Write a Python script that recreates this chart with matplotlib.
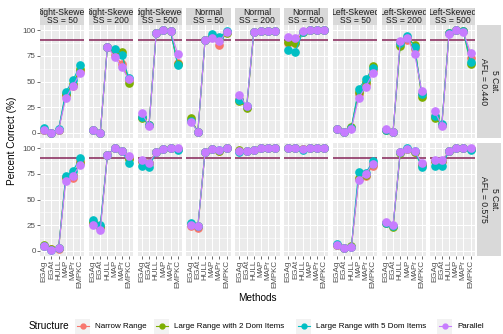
import matplotlib
matplotlib.use("Agg")
import matplotlib.pyplot as plt
from matplotlib.patches import Rectangle
from matplotlib.lines import Line2D

plt.rcParams['font.family'] = ['Liberation Sans', 'DejaVu Sans']

# ---------------- data ----------------
methods = ["EGAg", "EGAt", "HULL", "MAP", "MAPr", "EMPKC"]
distributions = ["Right-Skewed"] * 3 + ["Normal"] * 3 + ["Left-Skewed"] * 3
sample_sizes = [50, 200, 500] * 3
row_labels = ["5 Cat.\nAFL = 0.440", "5 Cat.\nAFL = 0.575"]
structures = ["Narrow Range", "Large Range with 2 Dom Items",
              "Large Range with 5 Dom Items", "Parallel"]
colors = ["#F8766D", "#7CAE00", "#00BFC4", "#C77CFF"]
criterion = 90
y_ticks = [0, 25, 50, 75, 100]

# rows: AFL = 0.440 ; one list of 6 method values per panel (9 panels)
narrow_440 = [[3, 0, 3, 37, 46, 60], [3, 0, 84, 76, 67, 51], [15, 8, 97, 100, 99, 68],
              [13, 1, 90, 94, 86, 98], [33, 25, 98, 99, 99, 99], [87, 87, 98, 100, 100, 100],
              [4, 1, 5, 38, 48, 61], [3, 1, 87, 90, 82, 38], [16, 8, 97, 100, 99, 73]]
large2_440 = [[3, 0, 3, 38, 48, 62], [3, 0, 84, 81, 79, 49], [14, 8, 97, 100, 99, 67],
              [14, 1, 90, 93, 90, 97], [31, 24, 98, 99, 99, 99], [88, 87, 98, 100, 100, 100],
              [4, 1, 6, 40, 50, 65], [3, 1, 85, 92, 86, 35], [14, 8, 97, 100, 99, 67]]
large5_440 = [[5, 0, 4, 40, 51, 66], [3, 0, 84, 82, 76, 53], [15, 8, 97, 100, 99, 66],
              [12, 1, 90, 96, 93, 99], [32, 26, 98, 99, 99, 99], [81, 79, 98, 100, 100, 100],
              [4, 1, 5, 43, 52, 63], [3, 1, 87, 94, 84, 38], [16, 9, 97, 100, 99, 69]]
parallel_440 = [[3, 0, 3, 34, 46, 58], [3, 0, 84, 74, 64, 52], [19, 7, 97, 100, 99, 77],
                [11, 1, 90, 92, 89, 98], [37, 26, 98, 99, 99, 99], [93, 92, 99, 100, 100, 100],
                [4, 1, 4, 34, 45, 58], [4, 1, 89, 92, 77, 41], [21, 7, 96, 100, 98, 78]]

# rows: AFL = 0.575
narrow_575 = [[5, 2, 2, 71, 71, 87], [27, 23, 93, 100, 97, 90], [87, 86, 96, 99, 100, 99],
              [24, 22, 96, 99, 97, 100], [97, 97, 98, 100, 100, 100], [100, 100, 99, 100, 100, 100],
              [6, 3, 4, 70, 73, 83], [27, 24, 96, 99, 96, 85], [87, 87, 97, 100, 100, 99]]
large2_575 = [[6, 2, 3, 72, 74, 86], [28, 23, 93, 100, 97, 89], [87, 86, 96, 99, 100, 99],
              [26, 24, 96, 99, 97, 100], [98, 97, 98, 100, 100, 100], [100, 100, 99, 100, 100, 100],
              [6, 3, 5, 71, 74, 85], [27, 23, 95, 99, 96, 84], [87, 87, 97, 100, 100, 99]]
large5_575 = [[5, 1, 3, 73, 78, 90], [30, 25, 93, 100, 97, 86], [83, 82, 96, 99, 100, 98],
              [27, 24, 96, 99, 98, 100], [96, 97, 98, 100, 100, 100], [100, 100, 98, 100, 100, 100],
              [7, 3, 4, 77, 76, 87], [27, 24, 96, 100, 97, 82], [83, 83, 97, 100, 100, 98]]
parallel_575 = [[5, 1, 3, 68, 73, 84], [25, 20, 93, 100, 97, 92], [88, 86, 96, 99, 100, 100],
                [25, 24, 96, 99, 98, 100], [97, 97, 98, 100, 100, 100], [100, 100, 99, 100, 100, 100],
                [6, 3, 4, 69, 75, 85], [28, 25, 96, 99, 97, 86], [88, 88, 97, 100, 100, 100]]

rows_data = [
    [narrow_440, large2_440, large5_440, parallel_440],
    [narrow_575, large2_575, large5_575, parallel_575],
]

# ---------------- layout ----------------
W, H = 503, 334
fig = plt.figure(figsize=(W / 100, H / 100), dpi=100)
fig.patch.set_facecolor("white")


def ax_at(x0, y0, x1, y1):
    return fig.add_axes([x0 / W, 1 - y1 / H, (x1 - x0) / W, (y1 - y0) / H])


def ftext(x, y, s, **kw):
    return fig.text(x / W, 1 - y / H, s, **kw)


px0, pw, gap = 40.0, 44.4, 4.4
row_y = [(25, 138), (143, 256)]
strip_y = (8, 25)
rstrip_x = (477, 501)
hline_color = "#862458"
TXT = 5.8
STRIP = 6.2
TITLE = 7.2

xpos = list(range(1, len(methods) + 1))

for r in range(2):
    y0, y1 = row_y[r]
    for c in range(9):
        x0 = px0 + c * (pw + gap)
        x1 = x0 + pw
        ax = ax_at(x0, y0, x1, y1)
        ax.set_facecolor("#EBEBEB")
        for sp in ax.spines.values():
            sp.set_visible(False)
        ax.set_xlim(0.4, len(methods) + 0.6)
        ax.set_ylim(-5, 105)
        ax.set_yticks(y_ticks)
        ax.set_yticks([12.5, 37.5, 62.5, 87.5], minor=True)
        ax.set_xticks(xpos)
        ax.grid(True, which="major", color="white", lw=0.75)
        ax.grid(True, which="minor", axis="y", color="white", lw=0.4)
        ax.set_axisbelow(True)
        ax.tick_params(which="minor", length=0)
        if c == 0:
            ax.tick_params(axis="y", length=2, width=0.5, color="#333333",
                           labelsize=TXT, labelcolor="#4D4D4D", pad=1)
            ax.set_yticklabels([str(t) for t in y_ticks])
        else:
            ax.tick_params(axis="y", length=0, labelleft=False)
        if r == 1:
            ax.tick_params(axis="x", length=2, width=0.5, color="#333333",
                           labelsize=TXT, labelcolor="#4D4D4D", pad=1)
            ax.set_xticklabels(methods, rotation=90)
        else:
            ax.tick_params(axis="x", length=0, labelbottom=False)

        ax.axhline(criterion, color=hline_color, lw=1.1, zorder=2)
        for s, series in enumerate(rows_data[r]):
            ax.plot(xpos, series[c], "-o", color=colors[s], lw=0.8, ms=5.2,
                    mec=colors[s], zorder=3 + s)

        if r == 0:
            sax = ax_at(x0, strip_y[0], x1, strip_y[1])
            sax.set_facecolor("#D9D9D9")
            sax.set_xticks([])
            sax.set_yticks([])
            for sp in sax.spines.values():
                sp.set_visible(False)
            sax.text(0.5, 0.5, f"{distributions[c]}\nSS = {sample_sizes[c]}",
                     transform=sax.transAxes, ha="center", va="center",
                     fontsize=STRIP, color="#1A1A1A", linespacing=0.95,
                     clip_on=True)

    rax = ax_at(rstrip_x[0], y0, rstrip_x[1], y1)
    rax.set_facecolor("#D9D9D9")
    rax.set_xticks([])
    rax.set_yticks([])
    for sp in rax.spines.values():
        sp.set_visible(False)
    rax.text(0.5, 0.5, row_labels[r], transform=rax.transAxes, rotation=-90,
             ha="center", va="center", fontsize=STRIP, color="#1A1A1A",
             linespacing=1.3)

# axis titles
ftext(12, (row_y[0][0] + row_y[1][1]) / 2, "Percent Correct (%)", rotation=90,
      ha="center", va="center", fontsize=TITLE, color="black")
ftext((px0 + px0 + 9 * pw + 8 * gap) / 2, 298, "Methods", ha="center",
      va="center", fontsize=TITLE, color="black")

# legend (manual, ggplot style with title on the left)
ly = 326
ftext(29, ly, "Structure", ha="left", va="center", fontsize=TITLE, color="black")
key_x = [75, 154, 296, 437]
for i, name in enumerate(structures):
    kx = key_x[i]
    fig.patches.append(Rectangle((kx / W, 1 - (ly + 7.5) / H), 15 / W, 15 / H,
                                 transform=fig.transFigure, facecolor="#F2F2F2",
                                 edgecolor="none"))
    fig.lines.append(Line2D([(kx + 1.5) / W, (kx + 13.5) / W], [1 - ly / H, 1 - ly / H],
                            transform=fig.transFigure, color=colors[i], lw=0.8))
    fig.lines.append(Line2D([(kx + 7.5) / W], [1 - ly / H], transform=fig.transFigure,
                            marker="o", color=colors[i], ms=3.5, lw=0))
    ftext(kx + 20, ly, name, ha="left", va="center", fontsize=TXT, color="black")

fig.savefig("out.png", dpi=100)
